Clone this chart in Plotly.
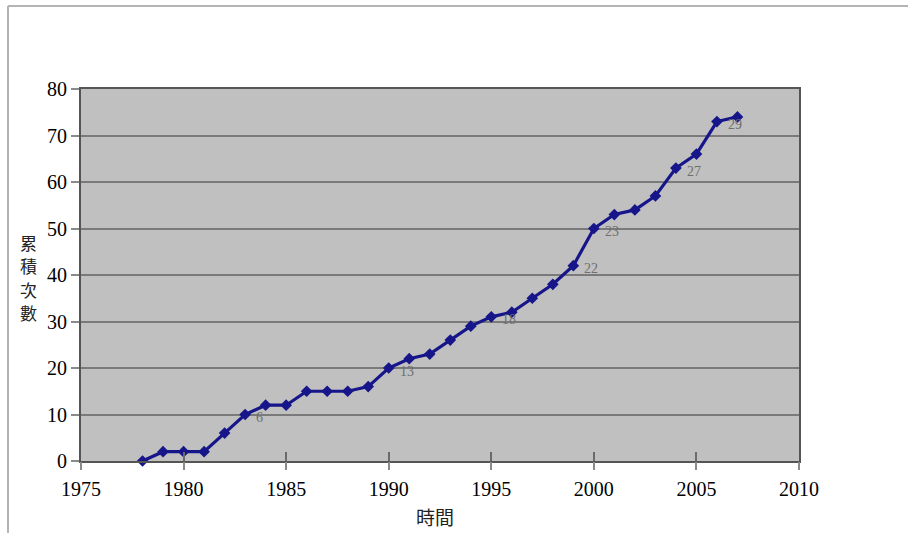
import plotly.graph_objects as go

# Cumulative count by year
years = list(range(1978, 2008))
cumulative = [0, 2, 2, 2, 6, 10, 12, 12, 15, 15, 15, 16, 20, 22, 23, 26,
              29, 31, 32, 35, 38, 42, 50, 53, 54, 57, 63, 66, 73, 74]

# Point annotations (year they sit next to, text shown)
note_years = [1983, 1990, 1995, 1999, 2000, 2004, 2006]
note_texts = ["6", "13", "18", "22", "23", "27", "29"]

x_ticks = [1975, 1980, 1985, 1990, 1995, 2000, 2005, 2010]
y_ticks = [0, 10, 20, 30, 40, 50, 60, 70, 80]

x_title = "時間"
y_title_chars = ["累", "積", "次", "數"]

serif = "Liberation Serif, Times New Roman, serif"
cjk = "Noto Sans CJK TC, Noto Sans CJK SC, sans-serif"

fig = go.Figure()
fig.add_trace(go.Scatter(
    x=years, y=cumulative, mode="lines+markers",
    line=dict(color="#16168a", width=3.2),
    marker=dict(symbol="diamond", size=9, color="#16168a"),
    showlegend=False, hoverinfo="x+y",
    cliponaxis=False,
))

# Invisible helper trace so the secondary x-axis (outer tick marks) is drawn
fig.add_trace(go.Scatter(
    x=[x_ticks[0], x_ticks[-1]], y=[0, 0], xaxis="x2", mode="markers",
    marker=dict(opacity=0), showlegend=False, hoverinfo="skip",
))

lookup = dict(zip(years, cumulative))
for yr, txt in zip(note_years, note_texts):
    fig.add_annotation(
        x=yr, y=lookup[yr], text=txt, showarrow=False,
        xanchor="left", yanchor="middle", xshift=9, yshift=-3,
        font=dict(family=serif, size=14, color="#6e6e6e"),
    )

L, R, T, B = 81, 109, 89, 72
W, H = 908, 533
pw, ph = W - L - R, H - T - B

# Outer frame: top and left edges
fx = (8 - L) / pw
fy_top = 1 + (T - 6) / ph
fy_bot = -B / ph
fx_right = (W - L) / pw
fig.add_shape(type="line", xref="paper", yref="paper",
              x0=fx, y0=fy_bot, x1=fx, y1=fy_top,
              line=dict(color="#b4b4b4", width=2))
fig.add_shape(type="line", xref="paper", yref="paper",
              x0=fx, y0=fy_top, x1=fx_right, y1=fy_top,
              line=dict(color="#b4b4b4", width=2))

# Axis titles
fig.add_annotation(
    xref="paper", yref="paper", x=(435 - L) / pw, y=1 - (516 - T) / ph,
    text=x_title, showarrow=False, xanchor="center", yanchor="middle",
    font=dict(family=cjk, size=19, color="#222"),
)
# Vertical title, one character per row
for i, ch in enumerate(y_title_chars):
    cy = 242 + i * 23.5
    fig.add_annotation(
        xref="paper", yref="paper", x=(28 - L) / pw, y=1 - (cy - T) / ph,
        text=ch, showarrow=False, xanchor="center", yanchor="middle",
        borderpad=0, font=dict(family=cjk, size=17, color="#222"),
    )

fig.update_layout(
    width=W, height=H,
    margin=dict(l=L, r=R, t=T, b=B),
    paper_bgcolor="white",
    plot_bgcolor="#c0c0c0",
    xaxis=dict(
        range=[1975, 2010], tickvals=x_ticks, ticks="inside", ticklen=9,
        tickwidth=2, tickcolor="#6a6a6a", showgrid=False, zeroline=False,
        showline=True, linecolor="#555555", linewidth=2, mirror=True,
        tickfont=dict(family=serif, size=20, color="black"),
        ticklabelstandoff=9,
    ),
    xaxis2=dict(
        range=[1975, 2010], tickvals=x_ticks, overlaying="x", side="bottom",
        anchor="y", ticks="outside", ticklen=8, tickwidth=2,
        tickcolor="#8a8a8a", showticklabels=False, showgrid=False,
        zeroline=False, showline=False,
    ),
    yaxis=dict(
        range=[0, 80], tickvals=y_ticks, ticks="outside", ticklen=8,
        tickwidth=2, tickcolor="#8a8a8a", showgrid=True,
        gridcolor="#7a7a7a", gridwidth=2, zeroline=False,
        showline=True, linecolor="#555555", linewidth=2, mirror=True,
        tickfont=dict(family=serif, size=20, color="black"),
    ),
)

fig.write_html("out.html")
